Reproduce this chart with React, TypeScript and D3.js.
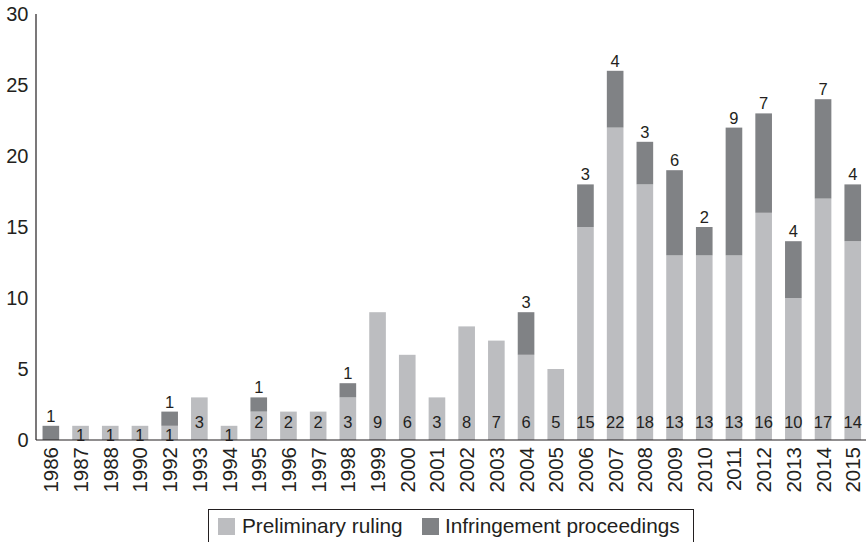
import React from "react";
import * as d3 from "d3";

const years = ["1986","1987","1988","1990","1992","1993","1994","1995","1996","1997","1998","1999","2000","2001","2002","2003","2004","2005","2006","2007","2008","2009","2010","2011","2012","2013","2014","2015"];
const preliminary = [0,1,1,1,1,3,1,2,2,2,3,9,6,3,8,7,6,5,15,22,18,13,13,13,16,10,17,14];
const infringement = [1,0,0,0,1,0,0,1,0,0,1,0,0,0,0,0,3,0,3,4,3,6,2,9,7,4,7,4];
const yTicks = [0,5,10,15,20,25,30];
const seriesNames = ["Preliminary ruling","Infringement proceedings"];

const W = 868, H = 542;
const LIGHT = "#bcbdc0", DARK = "#808285", INK = "#231f20";
const FONT = "'Liberation Sans', Arial, Helvetica, sans-serif";

export default function App() {
  const x = d3.scaleBand<string>().domain(years).range([36, 867.6]).paddingInner(0.44).paddingOuter(0.22);
  const y = d3.scaleLinear().domain([0, 30]).range([440, 14]);
  const bw = x.bandwidth();
  return (
    <svg width={W} height={H} style={{ position: "absolute", left: 0, top: 0, background: "#fff" }} fontFamily={FONT}>
      {years.map((yr, i) => {
        const p = preliminary[i], f = infringement[i];
        const x0 = x(yr)!;
        const cx = x0 + bw / 2;
        return (
          <g key={yr}>
            {p > 0 && <rect x={x0} y={y(p)} width={bw} height={y(0) - y(p)} fill={LIGHT} />}
            {f > 0 && <rect x={x0} y={y(p + f)} width={bw} height={y(p) - y(p + f)} fill={DARK} />}
            {p > 0 && (
              <text x={cx} y={p === 1 ? y(0) + 1 : y(0) - 12} textAnchor="middle" fontSize={16.5} fill={INK}>{p}</text>
            )}
            {f > 0 && (
              <text x={cx} y={y(p + f) - 4} textAnchor="middle" fontSize={16.5} fill={INK}>{f}</text>
            )}
            <text transform={`translate(${cx + 7.5},447) rotate(-90)`} textAnchor="end" fontSize={20.5} fill={INK}>{yr}</text>
          </g>
        );
      })}
      <line x1={36} x2={36} y1={14} y2={440} stroke={INK} strokeWidth={1.2} />
      <line x1={36} x2={866} y1={440} y2={440} stroke={INK} strokeWidth={1.2} />
      {yTicks.map(t => (
        <text key={t} x={28.5} y={y(t) + 7} textAnchor="end" fontSize={20} fill={INK}>{t}</text>
      ))}
      <rect x={208.5} y={509.5} width={485} height={40} fill="none" stroke={INK} strokeWidth={1} />
      <rect x={218} y={518} width={17} height={17} fill={LIGHT} />
      <text x={242} y={533} fontSize={20.8} fill={INK}>{seriesNames[0]}</text>
      <rect x={422} y={518} width={17} height={17} fill={DARK} />
      <text x={445} y={533} fontSize={20.8} fill={INK}>{seriesNames[1]}</text>
    </svg>
  );
}
